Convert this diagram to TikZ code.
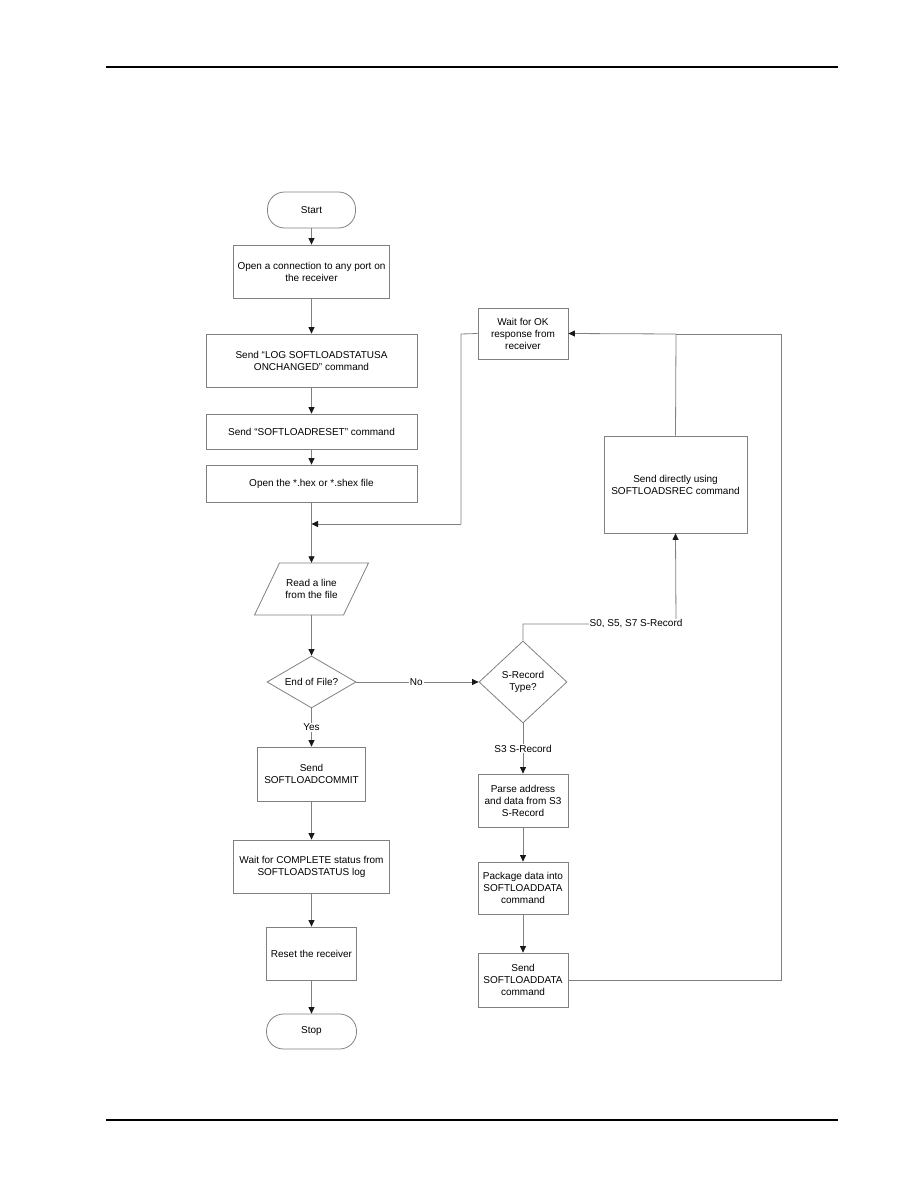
\documentclass[tikz,border=0pt]{standalone}
\usepackage{fontspec}
\setmainfont{Liberation Sans}
\usetikzlibrary{arrows.meta,shapes.geometric}
\definecolor{lin}{rgb}{0.5,0.5,0.5}
\definecolor{tip}{rgb}{0.1,0.1,0.1}
\tikzset{
  box/.style={draw=lin, line width=0.8pt, inner sep=0pt, align=center, font=\fontsize{10}{12}\selectfont},
  term/.style={box, rounded corners=17pt},
  dec/.style={draw=lin, line width=0.8pt, diamond, aspect=1.7, inner sep=0pt, align=center, font=\fontsize{10}{12}\selectfont},
  txt/.style={inner sep=0pt, align=center, font=\fontsize{10}{12}\selectfont},
  lab/.style={fill=white, inner sep=1pt, font=\fontsize{10}{12}\selectfont},
  conn/.style={draw=lin, line width=0.8pt},
  arr/.style={conn, -{Triangle[width=6pt,length=6.5pt,fill=tip,color=tip]}},
}
\begin{document}
\begin{tikzpicture}[x=1pt,y=-1pt]
\useasboundingbox (0,0) rectangle (918,1188);
% header / footer rules
\coordinate (h1) at (106,67); \coordinate (h2) at (838,67);
\coordinate (f1) at (106,1120); \coordinate (f2) at (838,1120);
\draw[line width=1.3pt] (h1) -- (h2);
\draw[line width=1.3pt] (f1) -- (f2);

% left column
\node[term, minimum width=88, minimum height=36] (start) at (311.5,210) {Start};
\node[box, minimum width=156, minimum height=53] (open) at (311.5,271.5) {Open a connection to any port on\\the receiver};
\node[box, minimum width=211, minimum height=53] (log) at (311.5,360.5) {Send “LOG SOFTLOADSTATUSA\\ONCHANGED” command};
\node[box, minimum width=211, minimum height=35] (rst) at (311.5,431.5) {Send “SOFTLOADRESET” command};
\node[box, minimum width=211, minimum height=37] (file) at (311.5,483.5) {Open the *.hex or *.shex file};
\coordinate (j) at (311.5,524);
\node[txt, minimum width=90, minimum height=52] (read) at (311.5,589) {Read a line\\from the file};
\draw[conn] (279.5,563) -- (368.5,563) -- (343.5,615) -- (254.5,615) -- cycle;
\node[dec, minimum width=89, minimum height=52] (eof) at (311.5,682) {End of File?};
\node[box, minimum width=108, minimum height=54] (commit) at (311.5,774) {Send\\SOFTLOADCOMMIT};
\node[box, minimum width=156, minimum height=53] (complete) at (311.5,866.5) {Wait for COMPLETE status from\\SOFTLOADSTATUS log};
\node[box, minimum width=90, minimum height=53] (rrx) at (311.5,953.5) {Reset the receiver};
\node[term, minimum width=90, minimum height=35] (stop) at (311.5,1031.5) {Stop};

% right column
\node[box, minimum width=90, minimum height=51] (wait) at (523,333.5) {Wait for OK\\response from\\receiver};
\node[box, minimum width=143, minimum height=97] (direct) at (675.5,484.5) {Send directly using\\SOFTLOADSREC command};
\node[dec, aspect=1, minimum width=88, minimum height=82] (srec) at (523,682) {S-Record\\Type?};
\node[box, minimum width=90, minimum height=53] (parse) at (523,800.5) {Parse address\\and data from S3\\S-Record};
\node[box, minimum width=90, minimum height=52] (pack) at (523,888) {Package data into\\SOFTLOADDATA\\command};
\node[box, minimum width=90, minimum height=54] (sdata) at (523,980) {Send\\SOFTLOADDATA\\command};

% connectors, main flow
\draw[arr] (start) -- (open);
\draw[arr] (open) -- (log);
\draw[arr] (log) -- (rst);
\draw[arr] (rst) -- (file);
\draw[conn] (file) -- (j);
\draw[arr] (j) -- (read.north);
\draw[arr] (read.south) -- (eof);
\draw[arr] (eof) -- (srec) node[lab, pos=0.49] {No};
\draw[arr] (eof) -- (commit) node[lab, pos=0.5] {Yes};
\draw[arr] (commit) -- (complete);
\draw[arr] (complete) -- (rrx);
\draw[arr] (rrx) -- (stop);

% wait -> junction
\coordinate (w1) at (461,334);
\coordinate (w2) at (461,524);
\draw[conn] (wait.west) -- (w1) -- (w2);
\draw[arr] (w2) -- (j);

% S-record branches
\coordinate (s1) at (523,624);
\coordinate (s2) at (676,624);
\draw[arr] (srec.north) -- (s1) -- (s2) -- (direct.south);
\node[lab] at (636,624) {S0, S5, S7 S-Record};
\draw[arr] (srec) -- (parse) node[lab, pos=0.5] {S3 S-Record};
\draw[arr] (parse) -- (pack);
\draw[arr] (pack) -- (sdata);

% loop back to wait
\coordinate (r1) at (781,980);
\coordinate (r2) at (781,334);
\coordinate (d1) at (676,334);
\draw[conn] (sdata.east) -- (r1) -- (r2) -- (d1);
\draw[arr] (d1) -- (wait.east);
\draw[conn] (direct.north) -- (d1);
\end{tikzpicture}
\end{document}
